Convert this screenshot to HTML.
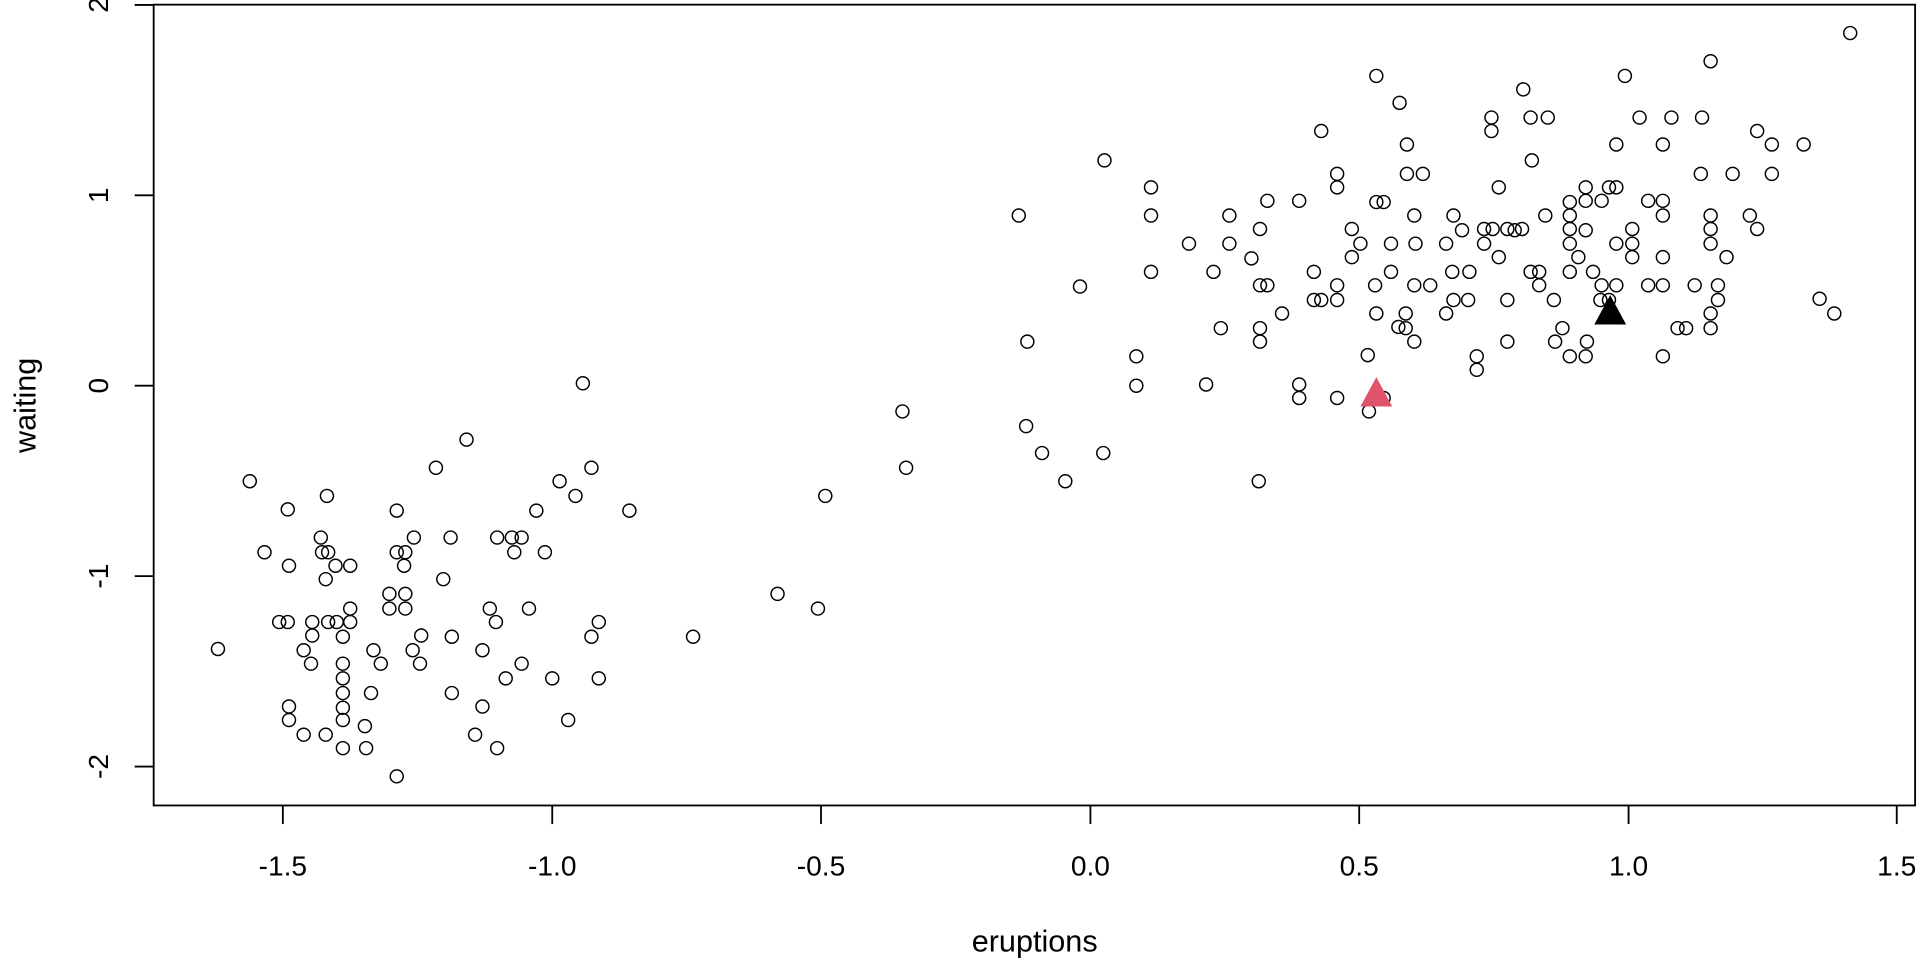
<!DOCTYPE html>
<html><head><meta charset="utf-8"><style>
html,body{margin:0;padding:0;background:#fff;}
svg{display:block;}
text{font-family:"Liberation Sans",Arial,sans-serif;fill:#000;font-size:23px;}
text.t{font-size:25px;}
</style></head><body>
<svg width="1920" height="960" viewBox="0 0 1568 784" preserveAspectRatio="none" xmlns="http://www.w3.org/2000/svg">
<rect x="0" y="0" width="1568" height="784" fill="#fff"/>
<rect x="125.5" y="3.8" width="1438.5" height="654" fill="none" stroke="#000" stroke-width="1.5"/>
<g stroke="#000" stroke-width="1.5">
<line x1="231" y1="658" x2="231" y2="673"/><line x1="451" y1="658" x2="451" y2="673"/><line x1="670.5" y1="658" x2="670.5" y2="673"/><line x1="890.5" y1="658" x2="890.5" y2="673"/><line x1="1110" y1="658" x2="1110" y2="673"/><line x1="1330" y1="658" x2="1330" y2="673"/><line x1="1549" y1="658" x2="1549" y2="673"/>
<line x1="110" y1="4" x2="125.5" y2="4"/><line x1="110" y1="159.5" x2="125.5" y2="159.5"/><line x1="110" y1="315" x2="125.5" y2="315"/><line x1="110" y1="470.5" x2="125.5" y2="470.5"/><line x1="110" y1="626" x2="125.5" y2="626"/>
</g>
<g text-anchor="middle">
<text x="231" y="715">-1.5</text><text x="451" y="715">-1.0</text><text x="670.5" y="715">-0.5</text><text x="890.5" y="715">0.0</text><text x="1110" y="715">0.5</text><text x="1330" y="715">1.0</text><text x="1549" y="715">1.5</text>
<text transform="translate(88,4) rotate(-90)">2</text>
<text transform="translate(88,159.5) rotate(-90)">1</text>
<text transform="translate(88,315) rotate(-90)">0</text>
<text transform="translate(88,470.5) rotate(-90)">-1</text>
<text transform="translate(88,626) rotate(-90)">-2</text>
<text class="t" x="845" y="777">eruptions</text>
<text class="t" transform="translate(29,331) rotate(-90)">waiting</text>
</g>
<g fill="none" stroke="#000" stroke-width="1.2">
<circle cx="178" cy="530" r="5.3"/><circle cx="204" cy="393" r="5.3"/><circle cx="216" cy="451" r="5.3"/><circle cx="235" cy="416" r="5.3"/><circle cx="236" cy="462" r="5.3"/><circle cx="228" cy="508" r="5.3"/><circle cx="235" cy="508" r="5.3"/><circle cx="236" cy="577" r="5.3"/><circle cx="236" cy="588" r="5.3"/><circle cx="248" cy="531" r="5.3"/><circle cx="248" cy="600" r="5.3"/><circle cx="255" cy="508" r="5.3"/><circle cx="255" cy="519" r="5.3"/><circle cx="254" cy="542" r="5.3"/><circle cx="262" cy="439" r="5.3"/><circle cx="263" cy="451" r="5.3"/><circle cx="266" cy="600" r="5.3"/><circle cx="267" cy="405" r="5.3"/><circle cx="266" cy="473" r="5.3"/><circle cx="268" cy="451" r="5.3"/><circle cx="268" cy="508" r="5.3"/><circle cx="274" cy="462" r="5.3"/><circle cx="275" cy="508" r="5.3"/><circle cx="280" cy="520" r="5.3"/><circle cx="280" cy="542" r="5.3"/><circle cx="280" cy="554" r="5.3"/><circle cx="280" cy="566" r="5.3"/><circle cx="280" cy="578" r="5.3"/><circle cx="280" cy="588" r="5.3"/><circle cx="280" cy="611" r="5.3"/><circle cx="286" cy="462" r="5.3"/><circle cx="286" cy="497" r="5.3"/><circle cx="286" cy="508" r="5.3"/><circle cx="298" cy="593" r="5.3"/><circle cx="299" cy="611" r="5.3"/><circle cx="305" cy="531" r="5.3"/><circle cx="303" cy="566" r="5.3"/><circle cx="311" cy="542" r="5.3"/><circle cx="318" cy="485" r="5.3"/><circle cx="318" cy="497" r="5.3"/><circle cx="324" cy="417" r="5.3"/><circle cx="324" cy="451" r="5.3"/><circle cx="331" cy="451" r="5.3"/><circle cx="330" cy="462" r="5.3"/><circle cx="331" cy="485" r="5.3"/><circle cx="331" cy="497" r="5.3"/><circle cx="338" cy="439" r="5.3"/><circle cx="337" cy="531" r="5.3"/><circle cx="344" cy="519" r="5.3"/><circle cx="343" cy="542" r="5.3"/><circle cx="324" cy="634" r="5.3"/><circle cx="356" cy="382" r="5.3"/><circle cx="362" cy="473" r="5.3"/><circle cx="368" cy="439" r="5.3"/><circle cx="369" cy="520" r="5.3"/><circle cx="369" cy="566" r="5.3"/><circle cx="381" cy="359" r="5.3"/><circle cx="388" cy="600" r="5.3"/><circle cx="394" cy="531" r="5.3"/><circle cx="394" cy="577" r="5.3"/><circle cx="400" cy="497" r="5.3"/><circle cx="405" cy="508" r="5.3"/><circle cx="406" cy="439" r="5.3"/><circle cx="406" cy="611" r="5.3"/><circle cx="413" cy="554" r="5.3"/><circle cx="418" cy="439" r="5.3"/><circle cx="420" cy="451" r="5.3"/><circle cx="426" cy="439" r="5.3"/><circle cx="426" cy="542" r="5.3"/><circle cx="432" cy="497" r="5.3"/><circle cx="438" cy="417" r="5.3"/><circle cx="445" cy="451" r="5.3"/><circle cx="451" cy="554" r="5.3"/><circle cx="457" cy="393" r="5.3"/><circle cx="464" cy="588" r="5.3"/><circle cx="470" cy="405" r="5.3"/><circle cx="476" cy="313" r="5.3"/><circle cx="483" cy="382" r="5.3"/><circle cx="483" cy="520" r="5.3"/><circle cx="489" cy="508" r="5.3"/><circle cx="489" cy="554" r="5.3"/><circle cx="514" cy="417" r="5.3"/><circle cx="566" cy="520" r="5.3"/><circle cx="635" cy="485" r="5.3"/><circle cx="668" cy="497" r="5.3"/><circle cx="674" cy="405" r="5.3"/><circle cx="740" cy="382" r="5.3"/><circle cx="737" cy="336" r="5.3"/>
<circle cx="832" cy="176" r="5.3"/><circle cx="839" cy="279" r="5.3"/><circle cx="838" cy="348" r="5.3"/><circle cx="851" cy="370" r="5.3"/><circle cx="870" cy="393" r="5.3"/><circle cx="882" cy="234" r="5.3"/><circle cx="902" cy="131" r="5.3"/><circle cx="901" cy="370" r="5.3"/><circle cx="928" cy="315" r="5.3"/><circle cx="928" cy="291" r="5.3"/><circle cx="940" cy="153" r="5.3"/><circle cx="940" cy="176" r="5.3"/><circle cx="940" cy="222" r="5.3"/><circle cx="971" cy="199" r="5.3"/><circle cx="985" cy="314" r="5.3"/><circle cx="991" cy="222" r="5.3"/><circle cx="997" cy="268" r="5.3"/><circle cx="1004" cy="176" r="5.3"/><circle cx="1004" cy="199" r="5.3"/><circle cx="1022" cy="211" r="5.3"/><circle cx="1029" cy="187" r="5.3"/><circle cx="1029" cy="233" r="5.3"/><circle cx="1029" cy="268" r="5.3"/><circle cx="1029" cy="279" r="5.3"/><circle cx="1028" cy="393" r="5.3"/><circle cx="1035" cy="164" r="5.3"/><circle cx="1035" cy="233" r="5.3"/><circle cx="1047" cy="256" r="5.3"/><circle cx="1061" cy="164" r="5.3"/><circle cx="1061" cy="314" r="5.3"/><circle cx="1061" cy="325" r="5.3"/><circle cx="1073" cy="222" r="5.3"/><circle cx="1073" cy="245" r="5.3"/><circle cx="1079" cy="107" r="5.3"/><circle cx="1079" cy="245" r="5.3"/><circle cx="1092" cy="142" r="5.3"/><circle cx="1092" cy="153" r="5.3"/><circle cx="1092" cy="233" r="5.3"/><circle cx="1092" cy="245" r="5.3"/><circle cx="1092" cy="325" r="5.3"/><circle cx="1104" cy="187" r="5.3"/><circle cx="1104" cy="210" r="5.3"/><circle cx="1111" cy="199" r="5.3"/><circle cx="1117" cy="290" r="5.3"/><circle cx="1118" cy="336" r="5.3"/><circle cx="1124" cy="165" r="5.3"/><circle cx="1123" cy="233" r="5.3"/><circle cx="1124" cy="256" r="5.3"/><circle cx="1130" cy="165" r="5.3"/><circle cx="1130" cy="325" r="5.3"/><circle cx="1124" cy="62" r="5.3"/><circle cx="1136" cy="199" r="5.3"/><circle cx="1136" cy="222" r="5.3"/><circle cx="1142" cy="267" r="5.3"/><circle cx="1143" cy="84" r="5.3"/><circle cx="1148" cy="256" r="5.3"/><circle cx="1148" cy="268" r="5.3"/><circle cx="1149" cy="118" r="5.3"/><circle cx="1149" cy="142" r="5.3"/><circle cx="1155" cy="176" r="5.3"/><circle cx="1156" cy="199" r="5.3"/><circle cx="1155" cy="233" r="5.3"/><circle cx="1155" cy="279" r="5.3"/><circle cx="1162" cy="142" r="5.3"/><circle cx="1168" cy="233" r="5.3"/><circle cx="1181" cy="256" r="5.3"/><circle cx="1181" cy="199" r="5.3"/><circle cx="1187" cy="176" r="5.3"/><circle cx="1186" cy="222" r="5.3"/><circle cx="1187" cy="245" r="5.3"/><circle cx="1194" cy="188" r="5.3"/><circle cx="1200" cy="222" r="5.3"/><circle cx="1199" cy="245" r="5.3"/><circle cx="1212" cy="199" r="5.3"/><circle cx="1206" cy="291" r="5.3"/><circle cx="1206" cy="302" r="5.3"/><circle cx="1212" cy="187" r="5.3"/><circle cx="1218" cy="96" r="5.3"/><circle cx="1218" cy="107" r="5.3"/><circle cx="1219" cy="187" r="5.3"/><circle cx="1224" cy="210" r="5.3"/><circle cx="1224" cy="153" r="5.3"/><circle cx="1231" cy="187" r="5.3"/><circle cx="1231" cy="245" r="5.3"/><circle cx="1231" cy="279" r="5.3"/><circle cx="1237" cy="188" r="5.3"/><circle cx="1243" cy="187" r="5.3"/><circle cx="1244" cy="73" r="5.3"/><circle cx="1250" cy="96" r="5.3"/><circle cx="1251" cy="131" r="5.3"/><circle cx="1250" cy="222" r="5.3"/><circle cx="1257" cy="222" r="5.3"/><circle cx="1262" cy="176" r="5.3"/><circle cx="1257" cy="233" r="5.3"/><circle cx="1264" cy="96" r="5.3"/><circle cx="1270" cy="279" r="5.3"/><circle cx="1269" cy="245" r="5.3"/><circle cx="1276" cy="268" r="5.3"/><circle cx="1282" cy="165" r="5.3"/><circle cx="1282" cy="176" r="5.3"/><circle cx="1282" cy="187" r="5.3"/><circle cx="1282" cy="199" r="5.3"/><circle cx="1282" cy="222" r="5.3"/><circle cx="1282" cy="291" r="5.3"/><circle cx="1289" cy="210" r="5.3"/><circle cx="1295" cy="188" r="5.3"/><circle cx="1295" cy="164" r="5.3"/><circle cx="1295" cy="153" r="5.3"/><circle cx="1296" cy="279" r="5.3"/><circle cx="1295" cy="291" r="5.3"/><circle cx="1301" cy="222" r="5.3"/><circle cx="1308" cy="164" r="5.3"/><circle cx="1308" cy="233" r="5.3"/><circle cx="1307" cy="245" r="5.3"/><circle cx="1314" cy="153" r="5.3"/><circle cx="1314" cy="245" r="5.3"/><circle cx="1320" cy="233" r="5.3"/><circle cx="1320" cy="199" r="5.3"/><circle cx="1320" cy="153" r="5.3"/><circle cx="1320" cy="118" r="5.3"/><circle cx="1327" cy="62" r="5.3"/><circle cx="1333" cy="199" r="5.3"/><circle cx="1333" cy="210" r="5.3"/><circle cx="1333" cy="187" r="5.3"/><circle cx="1339" cy="96" r="5.3"/><circle cx="1346" cy="164" r="5.3"/><circle cx="1346" cy="233" r="5.3"/><circle cx="1358" cy="164" r="5.3"/><circle cx="1358" cy="176" r="5.3"/><circle cx="1358" cy="210" r="5.3"/><circle cx="1358" cy="233" r="5.3"/><circle cx="1358" cy="118" r="5.3"/><circle cx="1358" cy="291" r="5.3"/><circle cx="1370" cy="268" r="5.3"/><circle cx="1365" cy="96" r="5.3"/><circle cx="1377" cy="268" r="5.3"/><circle cx="1384" cy="233" r="5.3"/><circle cx="1389" cy="142" r="5.3"/><circle cx="1390" cy="96" r="5.3"/><circle cx="1397" cy="176" r="5.3"/><circle cx="1397" cy="187" r="5.3"/><circle cx="1397" cy="199" r="5.3"/><circle cx="1397" cy="256" r="5.3"/><circle cx="1397" cy="268" r="5.3"/><circle cx="1397" cy="50" r="5.3"/><circle cx="1403" cy="245" r="5.3"/><circle cx="1403" cy="233" r="5.3"/><circle cx="1410" cy="210" r="5.3"/><circle cx="1415" cy="142" r="5.3"/><circle cx="1429" cy="176" r="5.3"/><circle cx="1435" cy="107" r="5.3"/><circle cx="1435" cy="187" r="5.3"/><circle cx="1447" cy="118" r="5.3"/><circle cx="1447" cy="142" r="5.3"/><circle cx="1473" cy="118" r="5.3"/><circle cx="1486" cy="244" r="5.3"/><circle cx="1498" cy="256" r="5.3"/><circle cx="1511" cy="27" r="5.3"/>
</g>
<polygon points="1124,308 1111,332 1137,332" fill="#DF536B"/>
<polygon points="1315,241 1302,265 1328,265" fill="#000"/>
</svg>
</body></html>
